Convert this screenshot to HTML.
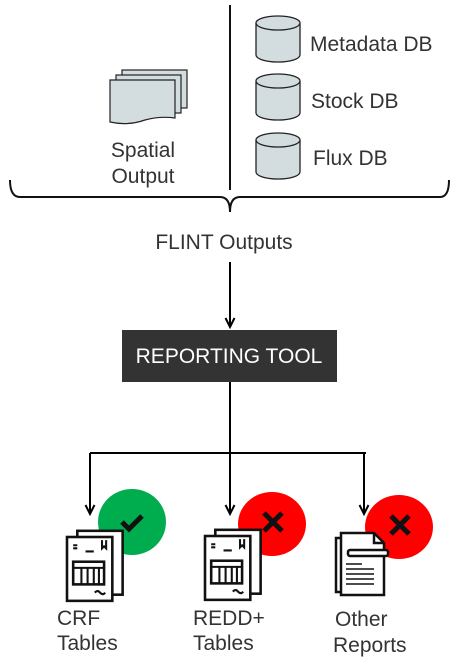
<!DOCTYPE html>
<html><head><style>body{margin:0;background:#fff}svg{display:block}text{font-family:"Liberation Sans",Arial,sans-serif;fill:#333}</style></head><body>
<svg width="463" height="671" viewBox="0 0 463 671" xmlns="http://www.w3.org/2000/svg">
<defs><marker id="a" markerWidth="12" markerHeight="12" refX="10" refY="6" orient="auto" markerUnits="userSpaceOnUse"><path d="M1,1.5 L10,6 L1,10.5" fill="none" stroke="#000" stroke-width="2"/></marker>
<g id="cyl"><path d="M0,7 L0,39 A22,7 0 0 0 44,39 L44,7" fill="#d3dde0" stroke="#222" stroke-width="1.3"/><ellipse cx="22" cy="7" rx="22" ry="7" fill="#d3dde0" stroke="#222" stroke-width="1.3"/></g>
<g id="tab"><rect x="10" y="-6" width="44" height="62" fill="#fff" stroke="#111" stroke-width="2.5"/><rect x="0" y="0" width="44" height="62" fill="#fff" stroke="#111" stroke-width="2.5"/><path d="M6,8h4M6,11h4M18,14h8M34,3v8l2,-2l2,2v-8" stroke="#111" stroke-width="2" fill="none"/><rect x="6" y="24" width="30" height="22" fill="none" stroke="#111" stroke-width="2.5"/><path d="M6,30h30M14,30v16M20,30v16M26,30v16M31,30v16M27,54q3,-3 5,0q3,3 5,0" stroke="#111" stroke-width="2" fill="none"/></g>
</defs>
<line x1="230" y1="5" x2="230" y2="190" stroke="#111" stroke-width="2"/>
<path d="M10,180 Q10,197 20,197 L220,197 Q230,197 230,212 Q230,197 240,197 L440,197 Q449,197 449,180" fill="none" stroke="#111" stroke-width="2"/>
<use href="#cyl" x="256" y="16"/><use href="#cyl" x="256" y="74"/><use href="#cyl" x="256" y="133"/>
<g fill="#d3dde0" stroke="#222" stroke-width="1.2">
<rect x="122" y="70" width="65" height="38"/><rect x="116" y="75" width="65" height="38"/>
<path d="M110,80 L175,80 L175,118 Q160,116 145,120 Q128,126 110,122 Z"/></g>
<g font-size="21"><text x="310" y="51">Metadata DB</text><text x="311" y="108">Stock DB</text><text x="313" y="165">Flux DB</text>
<text x="143" y="157" text-anchor="middle">Spatial</text><text x="143" y="183" text-anchor="middle">Output</text>
<text x="224" y="249" text-anchor="middle">FLINT Outputs</text></g>
<line x1="230" y1="262" x2="230" y2="327" stroke="#000" stroke-width="2" marker-end="url(#a)"/>
<rect x="122" y="330" width="215" height="52" fill="#333"/>
<text x="229" y="363" text-anchor="middle" font-size="21" style="fill:#fff">REPORTING TOOL</text>
<path d="M230,382 V453 M90,453 H366" stroke="#000" stroke-width="2" fill="none"/>
<line x1="90" y1="453" x2="90" y2="514" stroke="#000" stroke-width="2" marker-end="url(#a)"/>
<line x1="230" y1="453" x2="230" y2="514" stroke="#000" stroke-width="2" marker-end="url(#a)"/>
<line x1="364" y1="453" x2="364" y2="514" stroke="#000" stroke-width="2" marker-end="url(#a)"/>
<ellipse cx="132" cy="522" rx="34" ry="33" fill="#00ad4e"/>
<ellipse cx="272" cy="524" rx="34" ry="32" fill="#f00"/>
<ellipse cx="399" cy="527" rx="34" ry="32" fill="#f00"/>
<path d="M122,522 l7,7 l13,-13" stroke="#111" stroke-width="5" fill="none"/>
<path d="M264,513 l18,18 M282,513 l-18,18" stroke="#111" stroke-width="5"/>
<path d="M391,516 l18,18 M409,516 l-18,18" stroke="#111" stroke-width="5"/>
<use href="#tab" transform="translate(67,537) scale(1.03)"/><use href="#tab" transform="translate(205,536) scale(1.03)"/>
<g stroke="#111" stroke-width="2.5" fill="#fff"><path d="M336,538 h40 v54 h-40 z"/><path d="M341,533 h33 l10,10 v52 h-43 z"/><path d="M374,533 v10 h10" fill="none"/>
<rect x="348" y="550" width="40" height="6" rx="2"/></g>
<path d="M346,564h16M346,569h28M346,574h28M346,579h28M346,584h28" stroke="#111" stroke-width="1.6"/>
<g font-size="21"><text x="57" y="625">CRF</text><text x="57" y="650">Tables</text>
<text x="193" y="625">REDD+</text><text x="193" y="650">Tables</text>
<text x="335" y="626">Other</text><text x="333" y="652">Reports</text></g>
</svg></body></html>
